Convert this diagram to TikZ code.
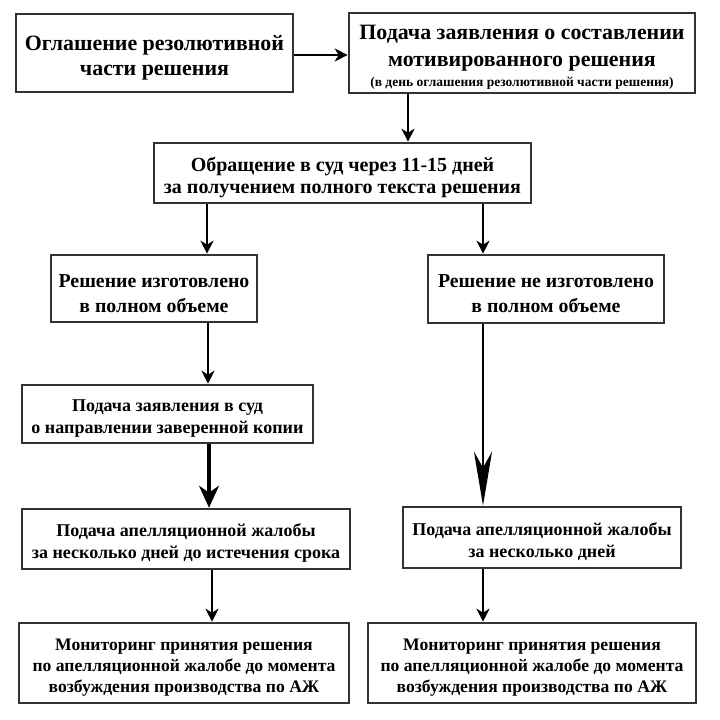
\documentclass[tikz,border=0pt]{standalone}
\usepackage{fontspec}
\setmainfont{Liberation Serif}
\usetikzlibrary{arrows.meta}
\newcommand\Tup{\rule{0pt}{\dimexpr.72em+8pt\relax}}
\begin{document}
\begin{tikzpicture}[x=1pt,y=-1pt,
  box/.style={draw=black!80, line width=2.6pt, inner sep=0pt, align=center, font=\bfseries, text=black},
  arr/.style={line width=2.8pt, -{Stealth[length=13pt,width=13pt,inset=4pt]}},
  bigarr/.style={line width=3.2pt, -{Stealth[length=22pt,width=20pt,inset=7pt]}},
  longarr/.style={line width=2.8pt, -{Stealth[length=54pt,width=18pt,inset=16pt]}}]
\useasboundingbox (0,0) rectangle (720,720);
\fill[white] (0,0) rectangle (720,720);

\node[box, minimum width=277pt, minimum height=78pt, font=\bfseries\fontsize{21.9}{25}\selectfont] (b1) at (154.5,53)
  {\Tup Оглашение резолютивной\\части решения};
\node[box, minimum width=346pt, minimum height=80pt, font=\bfseries\fontsize{21.9}{27}\selectfont] (b2) at (522,53)
  {\Tup Подача заявления о составлении\\
   мотивированного решения\\[-7pt]
   {\fontsize{13.5}{15}\selectfont (в день оглашения резолютивной части решения)}};
\node[box, minimum width=377pt, minimum height=60pt, font=\bfseries\fontsize{20}{22}\selectfont] (b3) at (342.5,173)
  {\Tup Обращение в суд через 11-15 дней\\за получением полного текста решения};
\node[box, minimum width=206pt, minimum height=67pt, font=\bfseries\fontsize{19.8}{25}\selectfont] (b4) at (154,288.5)
  {\Tup Решение изготовлено\\в полном объеме};
\node[box, minimum width=236pt, minimum height=68pt, font=\bfseries\fontsize{19.8}{25}\selectfont] (b5) at (546,289)
  {\Tup Решение не изготовлено\\в полном объеме};
\node[box, minimum width=291pt, minimum height=58pt, font=\bfseries\fontsize{18}{22}\selectfont] (b6) at (167.5,414)
  {\Tup Подача заявления в суд\\о направлении заверенной копии};
\node[box, minimum width=328pt, minimum height=60pt, font=\bfseries\fontsize{18}{22}\selectfont] (b7) at (186,539)
  {\Tup Подача апелляционной жалобы\\за несколько дней до истечения срока};
\node[box, minimum width=278pt, minimum height=61pt, font=\bfseries\fontsize{18}{22}\selectfont] (b8) at (542,537.5)
  {\Tup Подача апелляционной жалобы\\за несколько дней};
\node[box, minimum width=330pt, minimum height=80pt, font=\bfseries\fontsize{17.6}{21}\selectfont] (b9) at (184,663)
  {\Tup Мониторинг принятия решения\\по апелляционной жалобе до момента\\возбуждения производства по АЖ};
\node[box, minimum width=328pt, minimum height=80pt, font=\bfseries\fontsize{17.6}{21}\selectfont] (b10) at (532,663)
  {\Tup Мониторинг принятия решения\\по апелляционной жалобе до момента\\возбуждения производства по АЖ};

\coordinate (y1) at (0,55);
\coordinate (xa) at (408,0);
\coordinate (xb) at (207,0);
\coordinate (xc) at (483,0);
\coordinate (xd) at (208,0);
\coordinate (xe) at (209,0);
\coordinate (xf) at (212,0);

\draw[arr] (b1.east |- y1) -- (b2.west |- y1);
\draw[arr] (b2.south -| xa) -- (b3.north -| xa);
\draw[arr] (b3.south -| xb) -- (b4.north -| xb);
\draw[arr] (b3.south -| xc) -- (b5.north -| xc);
\draw[arr] (b4.south -| xd) -- (b6.north -| xd);
\draw[bigarr] (b6.south -| xe) -- (b7.north -| xe);
\draw[longarr] (b5.south -| xc) -- (b8.north -| xc);
\draw[arr] (b7.south -| xf) -- (b9.north -| xf);
\draw[arr] (b8.south -| xc) -- (b10.north -| xc);
\end{tikzpicture}
\end{document}
